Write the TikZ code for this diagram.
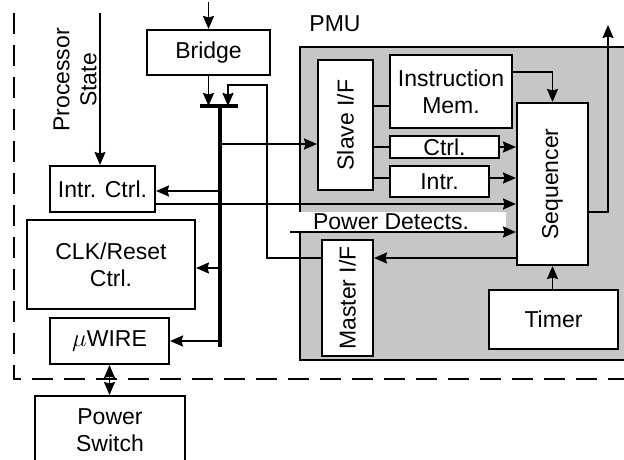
\documentclass[tikz,border=0pt]{standalone}
\usepackage{fontspec}
\setmainfont{Liberation Sans}
\usetikzlibrary{arrows.meta}
\begin{document}
\begin{tikzpicture}[
    x=1pt, y=-1pt,
    font=\fontsize{23}{27}\selectfont,
    blk/.style={rectangle, draw=black, fill=white, line width=2pt, inner sep=0pt, align=center},
    edge/.style={-{Stealth[length=13pt,width=11pt,inset=1.5pt]}, line width=1.9pt},
    dedge/.style={{Stealth[length=13pt,width=11pt,inset=1.5pt]}-{Stealth[length=13pt,width=11pt,inset=1.5pt]}, line width=1.9pt},
    wire/.style={line width=1.9pt},
    bus/.style={line width=3.2pt},
]
\useasboundingbox (0,0) rectangle (624,460);
\clip (0,0) rectangle (624,460);
% chip boundary
\draw[line width=2.8pt, dash pattern=on 21pt off 11pt] (14,13) -- (14,379) -- (630,379);
% PMU region
\filldraw[fill=gray!45, draw=black, line width=2pt] (300,47) rectangle (640,360);
\fill[white] (297,212) rectangle (506,231);
\node (pmu) at (335,24) {PMU};
\node (pdet) at (391,222) {Power Detects.};
\node[rotate=90, align=center] (pstate) at (75,80) {Processor\\State};
% blocks
\node[blk, minimum width=123pt, minimum height=45pt] (bridge) at (208.5,52.5) {Bridge};
\node[blk, minimum width=105pt, minimum height=46pt] (intrctrl) at (102.5,189) {Intr. Ctrl.};
\node[blk, minimum width=168pt, minimum height=89pt] (clk) at (111,264.5) {CLK/Reset\\Ctrl.};
\node[blk, minimum width=119pt, minimum height=46pt] (uwire) at (109.5,341) {$\mu$WIRE};
\node[blk, minimum width=150pt, minimum height=68pt] (psw) at (110,430) {Power\\Switch};
\node[blk, minimum width=55pt, minimum height=130pt] (slave) at (345.5,125) {\rotatebox{90}{Slave I/F}};
\node[blk, minimum width=122pt, minimum height=73pt] (imem) at (451,91.5) {Instruction\\Mem.};
\node[blk, minimum width=109pt, minimum height=22pt] (ctrl) at (444.5,147) {Ctrl.};
\node[blk, minimum width=99pt, minimum height=31pt] (intr) at (439.5,181.5) {Intr.};
\node[blk, minimum width=71pt, minimum height=162pt] (seq) at (552.5,184) {\rotatebox{90}{Sequencer}};
\node[blk, minimum width=51pt, minimum height=116pt] (master) at (347.5,298) {\rotatebox{90}{Master I/F}};
\node[blk, minimum width=129pt, minimum height=59pt] (timer) at (553.5,319.5) {Timer};
% bus points
\coordinate (psin) at (100,13);
\coordinate (brin) at (0,2);
\coordinate (barl) at (200,106);
\coordinate (barr) at (238,106);
\coordinate (bustop) at (220,106);
\coordinate (busend) at (220,347);
\coordinate (b1) at (220,144);
\coordinate (b2) at (220,191);
\coordinate (b3) at (220,268);
\coordinate (b4) at (220,341);
\coordinate (fb) at (267,85);
\coordinate (barfb) at (228,106);
\coordinate (pdin) at (290,232);
\coordinate (sout) at (608,25);
\coordinate (yic) at (0,204);
\coordinate (ym) at (0,258);
\coordinate (ysi) at (0,106);
\coordinate (ytr) at (0,178);
\coordinate (yim) at (0,72);
\coordinate (yso) at (0,212);
% bus
\draw[edge, line width=1.5pt] (psin) -- (psin |- intrctrl.north);
\draw[edge] (bridge.north |- brin) -- (bridge.north);
\draw[edge] (bridge.south) -- (bridge.south |- barl);
\draw[bus] (barl) -- (barr);
\draw[bus] (bustop) -- (busend);
\draw[edge] (b1) -- (b1 -| slave.west);
\draw[edge] (b2) -- (b2 -| intrctrl.east);
\draw[edge] (b3) -- (b3 -| clk.east);
\draw[edge] (b4) -- (b4 -| uwire.east);
\draw[dedge] (uwire.south) -- (uwire.south |- psw.north);
% PMU links
\draw[edge] (intrctrl.east |- yic) -- (seq.west |- yic);
\draw[edge] (pdin) -- (pdin -| seq.west);
\draw[edge] (seq.west |- ym) -- (master.east |- ym);
\draw[edge] (master.west |- ym) -| (fb) -| (barfb);
\draw[wire] (slave.east |- ysi) -- (imem.west |- ysi);
\draw[wire] (slave.east |- ctrl.west) -- (ctrl.west);
\draw[wire] (slave.east |- ytr) -- (intr.west |- ytr);
\draw[edge] (ctrl.east) -- (ctrl.east -| seq.west);
\draw[edge] (intr.east |- ytr) -- (seq.west |- ytr);
\draw[edge] (imem.east |- yim) -| (seq.north);
\draw[edge] (seq.east |- yso) -| (sout);
\draw[edge] (timer.north -| seq.south) -- (seq.south);
\end{tikzpicture}
\end{document}
